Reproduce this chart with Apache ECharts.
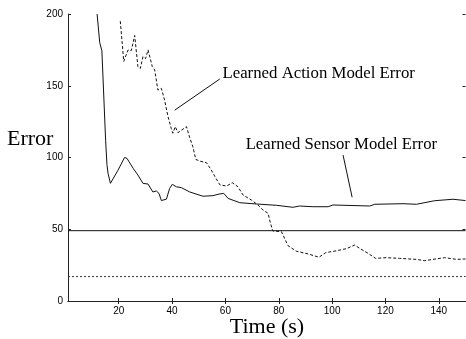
<!DOCTYPE html>
<html>
<head>
<meta charset="utf-8">
<script src="https://cdn.jsdelivr.net/npm/echarts@6/dist/echarts.min.js"></script>
<style>html,body{margin:0;padding:0;background:#fff;}#c{width:466px;height:339px;}</style>
</head>
<body>
<div id="c"></div>
<script>
var xTicks = [20, 40, 60, 80, 100, 120, 140];
var yTicks = [0, 50, 100, 150, 200];

var sensorTime  = [11.9, 12.9, 13.7, 15.1, 15.6, 16.0, 16.9, 19.7, 22.2, 23.1, 25.4, 27.2, 29.1, 31, 32.8, 34.1, 35.1, 36, 37.9, 39.1, 40.1, 41.6, 43.5, 46.6, 51.6, 55.3, 57.6, 59.4, 61, 65.4, 71.6, 79.1, 85.3, 87.8, 92.8, 98.5, 100.3, 114.1, 116, 126.6, 131.6, 138.5, 145.3, 150];
var sensorError = [200, 180, 174.4, 112, 95, 89, 82, 91, 100, 99.4, 92.5, 87.8, 82, 81.5, 76, 76.7, 75, 70, 71, 78.5, 81.3, 79.6, 79, 76, 73, 73.4, 74.5, 75, 71.5, 68.5, 67.6, 66.7, 65.3, 66.2, 65.7, 65.7, 66.9, 66.2, 67.4, 67.8, 67.4, 69.9, 70.9, 70];

var actionTime  = [20.6, 21.9, 23.5, 24.7, 26, 27.2, 28.1, 29.1, 30.1, 31, 32.6, 33.5, 34.7, 36, 37.2, 38.5, 39.7, 40.3, 41.2, 42.2, 45.4, 46.6, 47.8, 48.9, 50.4, 52.9, 54.7, 56, 57.9, 60.4, 62.6, 64.7, 66.6, 69.7, 72.2, 74.1, 76, 76.9, 77.8, 81, 83.5, 86.6, 91, 95.1, 97.6, 101.6, 105.4, 108.5, 110.3, 113.5, 116.3, 120.3, 125.3, 131.6, 134.7, 137.8, 142.2, 146.6, 150];
var actionError = [195, 167, 174.9, 174.4, 185, 163.3, 162, 170.3, 169, 175, 163.3, 161, 147, 148.2, 140, 128.4, 120.3, 116.9, 121.5, 117.3, 121.5, 114, 107.5, 98.7, 97.5, 96.4, 91.3, 87, 81, 80.1, 82.4, 79.6, 73.9, 70.4, 66.9, 63.4, 61.1, 54.1, 48.8, 48.3, 38.5, 34.7, 32.8, 30.5, 33.7, 35, 36.5, 39, 36.7, 33.2, 29.7, 30.2, 29.7, 29, 28.1, 29, 30.2, 29, 29.3];

var timeRange = [1, 150];
var solidLevel = 49;
var dashedLevel = 17;

function zip(a, b) { return a.map(function (v, i) { return [v, b[i]]; }); }

var chart = echarts.init(document.getElementById('c'), null, {renderer: 'canvas'});
var tickFont = {fontFamily: 'Liberation Sans', fontSize: 10, color: '#000'};
var axisLineStyle = {color: '#222', width: 1};

chart.setOption({
  animation: false,
  backgroundColor: '#fff',
  grid: {left: 68, right: 0.5, top: 14, bottom: 38, containLabel: false},
  xAxis: [{
    type: 'value', min: timeRange[0], max: timeRange[1], position: 'bottom',
    axisLine: {show: true, lineStyle: axisLineStyle},
    axisTick: {show: true, inside: true, length: 3, customValues: xTicks, lineStyle: axisLineStyle},
    axisLabel: Object.assign({customValues: xTicks, margin: 5}, tickFont),
    splitLine: {show: false}
  }, {
    type: 'value', min: timeRange[0], max: timeRange[1], position: 'top',
    axisLine: {show: true, lineStyle: axisLineStyle},
    axisTick: {show: true, inside: true, length: 3, customValues: xTicks, lineStyle: axisLineStyle},
    axisLabel: {show: false},
    splitLine: {show: false}
  }],
  yAxis: [{
    type: 'value', min: 0, max: 200, interval: 50, position: 'left',
    axisLine: {show: true, lineStyle: axisLineStyle},
    axisTick: {show: true, inside: true, length: 3, customValues: yTicks, lineStyle: axisLineStyle},
    axisLabel: Object.assign({margin: 5, customValues: yTicks}, tickFont),
    splitLine: {show: false}
  }, {
    type: 'value', min: 0, max: 200, interval: 50, position: 'right',
    axisLine: {show: false},
    axisTick: {show: true, inside: true, length: 3, customValues: yTicks, lineStyle: axisLineStyle},
    axisLabel: {show: false},
    splitLine: {show: false}
  }],
  series: [{
    type: 'line', data: zip(sensorTime, sensorError), showSymbol: false, clip: true,
    lineStyle: {color: '#111', width: 1}
  }, {
    type: 'line', data: zip(actionTime, actionError), showSymbol: false, clip: true,
    lineStyle: {color: '#111', width: 1, type: [3, 2]}
  }, {
    type: 'line', data: [[timeRange[0], solidLevel], [timeRange[1], solidLevel]], showSymbol: false,
    lineStyle: {color: '#111', width: 1}
  }, {
    type: 'line', data: [[timeRange[0], dashedLevel], [timeRange[1], dashedLevel]], showSymbol: false,
    lineStyle: {color: '#333', width: 1, type: [2, 2]}
  }]
});

function px(x, y) { return chart.convertToPixel({xAxisIndex: 0, yAxisIndex: 0}, [x, y]); }
var a1 = px(57.9, 154.7), a2 = px(41, 133);
var s1 = px(104.1, 101.7), s2 = px(107.5, 72.3);
var at = px(58.9, 158.6), st = px(67.6, 108.7);
var serif = 'Liberation Serif';

chart.setOption({
  graphic: [
    {type: 'line', shape: {x1: a1[0], y1: a1[1], x2: a2[0], y2: a2[1]}, style: {stroke: '#111', lineWidth: 1}},
    {type: 'line', shape: {x1: s1[0], y1: s1[1], x2: s2[0], y2: s2[1]}, style: {stroke: '#111', lineWidth: 1}},
    {type: 'text', x: at[0], y: at[1], style: {text: 'Learned Action Model Error', font: '16.8px "' + serif + '"', fill: '#000', verticalAlign: 'middle', align: 'left'}},
    {type: 'text', x: st[0], y: st[1], style: {text: 'Learned Sensor Model Error', font: '16.7px "' + serif + '"', fill: '#000', verticalAlign: 'middle', align: 'left'}},
    {type: 'text', x: 7, y: 139, style: {text: 'Error', font: '22px "' + serif + '"', fill: '#000', verticalAlign: 'middle', align: 'left'}},
    {type: 'text', x: 267, y: 327, style: {text: 'Time (s)', font: '22px "' + serif + '"', fill: '#000', verticalAlign: 'middle', align: 'center'}}
  ]
});
</script>
</body>
</html>
